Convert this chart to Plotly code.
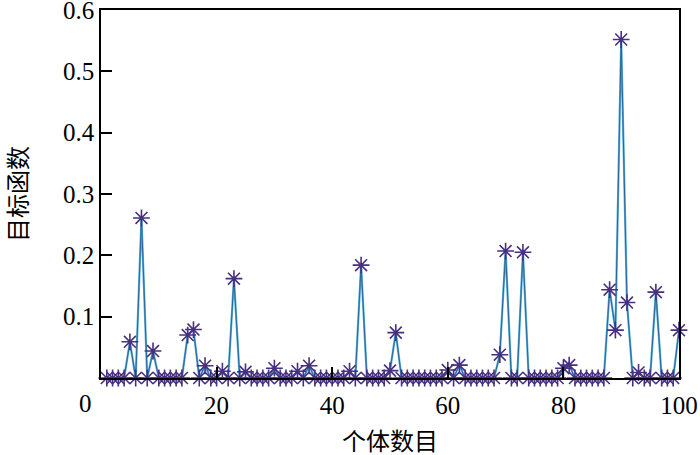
import plotly.graph_objects as go

# Individual index (1..100) and objective function value
individuals = list(range(1, 101))
objective = [
    0, 0, 0, 0, 0.059, 0, 0.261, 0, 0.044, 0,
    0, 0, 0, 0, 0.070, 0.079, 0, 0.020, 0, 0,
    0.011, 0, 0.162, 0, 0.010, 0, 0, 0, 0, 0.016,
    0, 0, 0, 0.011, 0, 0.020, 0, 0, 0, 0,
    0, 0, 0.011, 0, 0.184, 0, 0, 0, 0, 0.012,
    0.074, 0, 0, 0, 0, 0, 0, 0, 0, 0.013,
    0, 0.021, 0, 0, 0, 0, 0, 0, 0.038, 0.207,
    0, 0, 0.205, 0, 0, 0, 0, 0, 0, 0.016,
    0.021, 0, 0, 0, 0, 0, 0, 0.144, 0.078, 0.552,
    0.123, 0, 0.009, 0, 0, 0.140, 0, 0, 0, 0.078,
]

x_tickvals = [20, 40, 60, 80, 100]
x_ticktext = ["20", "40", "60", "80", "100"]
y_tickvals = [0.1, 0.2, 0.3, 0.4, 0.5, 0.6]
y_ticktext = ["0.1", "0.2", "0.3", "0.4", "0.5", "0.6"]

x_title = "个体数目"
y_title = "目标函数"

serif = "Liberation Serif, Times New Roman, serif"
cjk = "Noto Sans CJK SC"

fig = go.Figure()
fig.add_trace(go.Scatter(
    x=individuals, y=objective, mode="lines",
    line=dict(color="#5AAEDD", width=2.2),
    cliponaxis=False, showlegend=False, hoverinfo="skip",
))
fig.add_trace(go.Scatter(
    x=individuals, y=objective, mode="lines+markers",
    line=dict(color="#24608F", width=0.9),
    marker=dict(symbol="asterisk-open", size=14, color="#47307F",
                line=dict(color="#47307F", width=1.6)),
    cliponaxis=False, showlegend=False,
))

axis_common = dict(showgrid=False, zeroline=False, showline=True,
                   linecolor="black", linewidth=1.5, mirror=True,
                   ticks="inside", ticklen=11, tickwidth=1.5,
                   tickcolor="black", ticklabeloverflow="allow",
                   automargin=False,
                   tickfont=dict(family=serif, size=25, color="black"))

fig.update_xaxes(range=[0, 100.001], tickvals=x_tickvals, ticktext=x_ticktext,
                 ticklabelstandoff=4, **axis_common)
fig.update_yaxes(range=[0, 0.6001], tickvals=y_tickvals, ticktext=y_ticktext,
                 **axis_common)

fig.update_layout(
    width=700, height=455,
    margin=dict(l=101, r=21, t=10, b=77),
    plot_bgcolor="white", paper_bgcolor="white",
    annotations=[
        dict(text="0", xref="paper", yref="paper", x=0, y=0,
             xanchor="right", yanchor="middle", xshift=-7, yshift=-25,
             showarrow=False, font=dict(family=serif, size=25, color="black")),
        dict(text=x_title, xref="paper", yref="paper", x=0.5, y=0,
             xanchor="center", yanchor="middle", yshift=-61,
             showarrow=False, font=dict(family=cjk, size=24, color="black")),
        dict(text=y_title, xref="paper", yref="paper", x=0, y=0.5,
             xanchor="center", yanchor="middle", xshift=-85, textangle=-90,
             showarrow=False, font=dict(family=cjk, size=24, color="black")),
    ],
)

fig.write_html("out.html", config={"displayModeBar": False},
               post_script="document.body.style.margin='0';document.body.style.overflow='hidden';")
